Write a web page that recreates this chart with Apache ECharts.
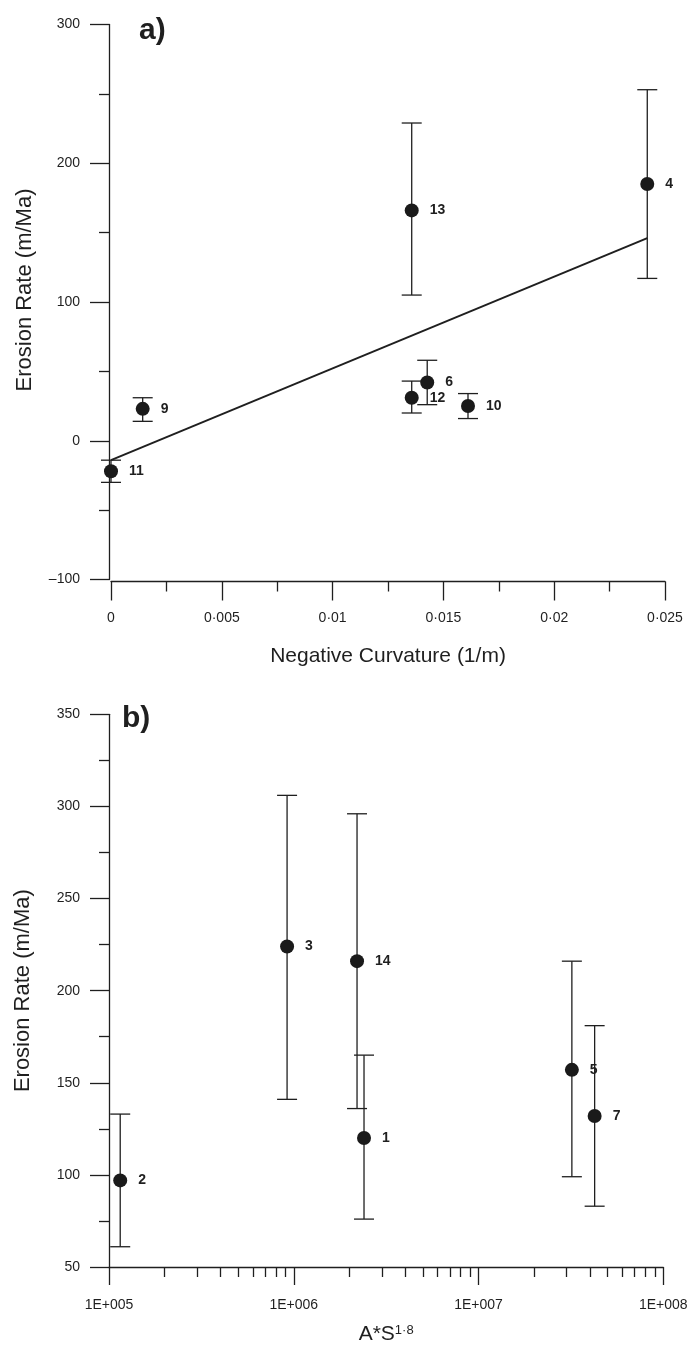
<!DOCTYPE html>
<html>
<head>
<meta charset="utf-8">
<script src="https://cdn.jsdelivr.net/npm/echarts@6/dist/echarts.min.js"></script>
<style>
  html, body { margin: 0; padding: 0; background: #fff; }
  #chart { width: 697px; height: 1346px; }
</style>
</head>
<body>
<div id="chart"></div>
<script>
// panel a) erosion rate vs negative curvature
const sitesA = ['11', '9', '13', '12', '6', '10', '4'];
const curvA = [0, 0.00143, 0.01357, 0.01357, 0.01427, 0.01611, 0.0242];
const rateA = [-22, 23, 166, 31, 42, 25, 185];
const rateALow = [-30, 14, 105, 20, 26, 16, 117];
const rateAHigh = [-14, 31, 229, 43, 58, 34, 253];
// fitted line end points
const fitX = [0, 0.0242];
const fitY = [-14, 146];

// panel b) erosion rate vs A*S^1.8
const sitesB = ['2', '3', '14', '1', '5', '7'];
const asB = [1.15e5, 9.2e5, 2.2e6, 2.4e6, 3.2e7, 4.25e7];
const rateB = [97, 224, 216, 120, 157, 132];
const rateBLow = [61, 141, 136, 76, 99, 83];
const rateBHigh = [133, 306, 296, 165, 216, 181];
// minor ticks of the log axis
const logMinor = [2e5, 3e5, 4e5, 5e5, 6e5, 7e5, 8e5, 9e5,
  2e6, 3e6, 4e6, 5e6, 6e6, 7e6, 8e6, 9e6,
  2e7, 3e7, 4e7, 5e7, 6e7, 7e7, 8e7, 9e7];

const FONT = '"Liberation Sans", Arial, sans-serif';
const INK = '#1f1f1f';

const chart = echarts.init(document.getElementById('chart'));

function errorBars(xs, lo, hi, xi, yi) {
  return {
    type: 'custom',
    xAxisIndex: xi,
    yAxisIndex: yi,
    silent: true,
    z: 2,
    data: xs.map((x, i) => [x, lo[i], hi[i]]),
    renderItem(params, api) {
      const top = api.coord([api.value(0), api.value(2)]);
      const bot = api.coord([api.value(0), api.value(1)]);
      const style = { stroke: INK, lineWidth: 1.3 };
      return {
        type: 'group',
        children: [
          { type: 'line', shape: { x1: top[0], y1: top[1], x2: bot[0], y2: bot[1] }, style },
          { type: 'line', shape: { x1: top[0] - 10, y1: top[1], x2: top[0] + 10, y2: top[1] }, style },
          { type: 'line', shape: { x1: bot[0] - 10, y1: bot[1], x2: bot[0] + 10, y2: bot[1] }, style }
        ]
      };
    }
  };
}

function points(xs, ys, names, xi, yi) {
  return {
    type: 'scatter',
    xAxisIndex: xi,
    yAxisIndex: yi,
    symbolSize: 14,
    z: 3,
    itemStyle: { color: '#1a1a1a', opacity: 1 },
    label: {
      show: true,
      position: 'right',
      distance: 11,
      formatter: p => names[p.dataIndex],
      fontFamily: FONT,
      fontWeight: 'bold',
      fontSize: 14,
      color: INK
    },
    data: xs.map((x, i) => [x, ys[i]])
  };
}

const axisLine = { show: true, onZero: false, lineStyle: { color: INK, width: 1.3 } };
const tick = { show: true, length: 19, lineStyle: { color: INK, width: 1.3 } };
const minor = { show: true, splitNumber: 2, length: 10, lineStyle: { color: INK, width: 1.3 } };
const tickLabel = { fontFamily: FONT, fontSize: 14, color: INK };
const xNameStyle = { fontFamily: FONT, fontSize: 21, color: INK };

const option = {
  animation: false,
  backgroundColor: '#fff',
  title: [
    { text: 'a)', left: 134, top: 11, textStyle: { fontFamily: FONT, fontSize: 30, fontWeight: 'bold', color: INK } },
    { text: 'b)', left: 117, top: 699, textStyle: { fontFamily: FONT, fontSize: 30, fontWeight: 'bold', color: INK } }
  ],
  grid: [
    { left: 111, top: 24.5, width: 554, height: 555 },
    { left: 109, top: 714.3, width: 554.3, height: 553.4 }
  ],
  xAxis: [
    {
      gridIndex: 0, type: 'value', min: 0, max: 0.025, interval: 0.005, offset: 2,
      position: 'bottom',
      name: 'Negative Curvature (1/m)', nameLocation: 'middle', nameGap: 64, nameTextStyle: xNameStyle,
      axisLine, axisTick: tick, minorTick: minor, splitLine: { show: false },
      axisLabel: Object.assign({ margin: 30, formatter: v => String(v).replace('.', '\u00b7') }, tickLabel)
    },
    {
      gridIndex: 1, type: 'log', logBase: 10, min: 1e5, max: 1e8, position: 'bottom',
      name: '{a|A*S}{s|1\u00b78}', nameLocation: 'middle', nameGap: 57,
      nameTextStyle: {
        rich: {
          a: { fontFamily: FONT, fontSize: 21, color: INK },
          s: { fontFamily: FONT, fontSize: 13, color: INK, verticalAlign: 'top', padding: [0, 0, 8, 0] }
        }
      },
      axisLine, axisTick: Object.assign({}, tick, { length: 18 }), splitLine: { show: false },
      axisLabel: Object.assign({ margin: 31, formatter: v => '1E+00' + Math.round(Math.log10(v)) }, tickLabel)
    },
    {
      gridIndex: 1, type: 'log', logBase: 10, min: 1e5, max: 1e8, position: 'bottom',
      axisLine: { show: false, onZero: false },
      axisTick: { show: true, length: 10, customValues: logMinor, lineStyle: { color: INK, width: 1.3 } },
      axisLabel: { show: false }, splitLine: { show: false }
    }
  ],
  yAxis: [
    {
      gridIndex: 0, type: 'value', min: -100, max: 300, interval: 100, offset: 2,
      name: 'Erosion Rate (m/Ma)', nameLocation: 'middle', nameGap: 73,
      nameTextStyle: { fontFamily: FONT, fontSize: 22, color: INK, padding: [0, 0, 0, 24] },
      axisLine, axisTick: tick, minorTick: minor, splitLine: { show: false },
      axisLabel: Object.assign({ margin: 29, formatter: v => (v < 0 ? '\u2013' + (-v) : String(v)) }, tickLabel)
    },
    {
      gridIndex: 1, type: 'value', min: 50, max: 350, interval: 50,
      name: 'Erosion Rate (m/Ma)', nameLocation: 'middle', nameGap: 75,
      nameTextStyle: { fontFamily: FONT, fontSize: 22, color: INK },
      axisLine, axisTick: tick, minorTick: minor, splitLine: { show: false },
      axisLabel: Object.assign({ margin: 29 }, tickLabel)
    }
  ],
  series: [
    errorBars(curvA, rateALow, rateAHigh, 0, 0),
    {
      type: 'line',
      xAxisIndex: 0,
      yAxisIndex: 0,
      symbol: 'none',
      z: 2,
      lineStyle: { color: INK, width: 2 },
      data: fitX.map((x, i) => [x, fitY[i]])
    },
    points(curvA, rateA, sitesA, 0, 0),
    errorBars(asB, rateBLow, rateBHigh, 1, 1),
    points(asB, rateB, sitesB, 1, 1)
  ]
};

chart.setOption(option);
</script>
</body>
</html>
